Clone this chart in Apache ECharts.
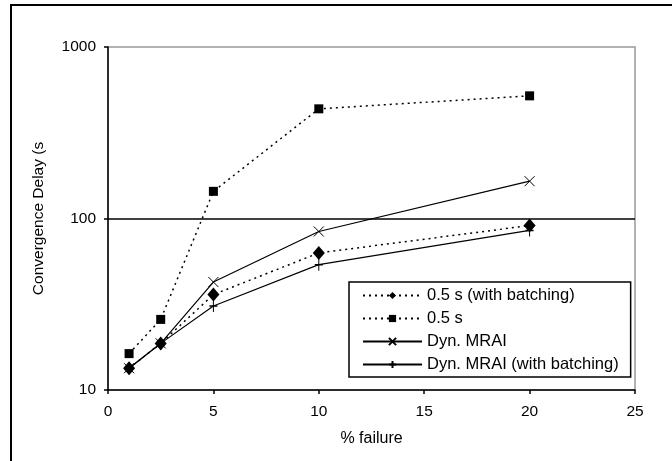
<!doctype html>
<html lang="en">
  <head>
    <meta charset="utf-8">
    <title>Convergence delay</title>
    <script src="https://cdn.jsdelivr.net/npm/echarts@6/dist/echarts.min.js"></script>
    <style>
      html, body { margin: 0; padding: 0; background: #fff; }
      #container { width: 672px; height: 461px; }
    </style>
  </head>
  <body>
    <div id="container"></div>
    <script type="text/javascript">
      // % failure
      var xVals = [1, 2.5, 5, 10, 20];
      // convergence delay (s)
      var batch05 = [13.4, 18.7, 36, 63, 91];
      var plain05 = [16.3, 25.8, 144, 436, 519];
      var dynMrai = [13.4, 18.7, 42.6, 84, 165];
      var dynMraiBatch = [13.4, 18.7, 30.9, 53.8, 85.2];

      var seriesNames = ['0.5 s (with batching)', '0.5 s', 'Dyn. MRAI', 'Dyn. MRAI (with batching)'];

      function pairs(ys) {
        return xVals.map(function (x, i) { return [x, ys[i]]; });
      }

      var font = 'Liberation Sans, Arial, sans-serif';
      var dotted = { color: '#000', width: 1.5, type: [2, 4] };
      var solid = { color: '#000', width: 1.2, type: 'solid' };

      var chart = echarts.init(document.getElementById('container'));
      var option = {
        animation: false,
        backgroundColor: '#fff',
        textStyle: { fontFamily: font, color: '#000' },
        graphic: [{
          type: 'rect',
          shape: { x: 11, y: 5, width: 700, height: 500 },
          style: { fill: 'none', stroke: '#000', lineWidth: 2 },
          silent: true
        }],
        grid: {
          left: 108, top: 47, right: 37, bottom: 71,
          show: true, borderColor: '#999', borderWidth: 1.5
        },
        legend: {
          orient: 'vertical',
          left: 349, top: 282,
          itemWidth: 59, itemHeight: 9, itemGap: 6,
          padding: [5, 12, 4, 13],
          borderColor: '#000', borderWidth: 1.5,
          backgroundColor: '#fff',
          textStyle: { fontFamily: font, fontSize: 16.5, color: '#000' },
          data: seriesNames
        },
        xAxis: {
          type: 'value', min: 0, max: 25, interval: 5,
          name: '% failure', nameLocation: 'middle', nameGap: 41,
          nameTextStyle: { fontSize: 16, color: '#000' },
          axisLine: { lineStyle: { color: '#000', width: 1.5 } },
          axisTick: { inside: false, length: 4, lineStyle: { color: '#000', width: 1.5 } },
          axisLabel: { fontSize: 15.5, color: '#000', margin: 14 },
          splitLine: { show: false }
        },
        yAxis: {
          type: 'log', logBase: 10, min: 10, max: 1000,
          name: 'Convergence Delay (s', nameLocation: 'middle', nameGap: 61,
          nameTextStyle: { fontSize: 15.5, color: '#000' },
          axisLine: { show: true, lineStyle: { color: '#000', width: 1.5 } },
          axisTick: { show: true, inside: false, length: 4, lineStyle: { color: '#000', width: 1.5 } },
          axisLabel: {
            fontSize: 15.5, color: '#000', margin: 12,
            formatter: function (v) { return String(Math.round(v)); }
          },
          splitLine: { show: true, showMinLine: false, showMaxLine: false, lineStyle: { color: '#000', width: 1.5 } }
        },
        series: [{
          name: seriesNames[0], type: 'line', data: pairs(batch05),
          symbol: 'diamond', symbolSize: [12, 14],
          itemStyle: { color: '#000' }, lineStyle: dotted
        }, {
          name: seriesNames[1], type: 'line', data: pairs(plain05),
          symbol: 'rect', symbolSize: 9,
          itemStyle: { color: '#000' }, lineStyle: dotted
        }, {
          name: seriesNames[2], type: 'line', data: pairs(dynMrai),
          symbol: 'path://M0,0L10,10M0,10L10,0', symbolSize: 10,
          itemStyle: { color: '#000', borderColor: '#000', borderWidth: 1 }, lineStyle: solid
        }, {
          name: seriesNames[3], type: 'line', data: pairs(dynMraiBatch),
          symbol: 'path://M5,0L5,12M0,6L10,6', symbolSize: [8, 12],
          itemStyle: { color: '#000', borderColor: '#000', borderWidth: 1.2 }, lineStyle: solid
        }]
      };
      chart.setOption(option);
    </script>
  </body>
</html>
